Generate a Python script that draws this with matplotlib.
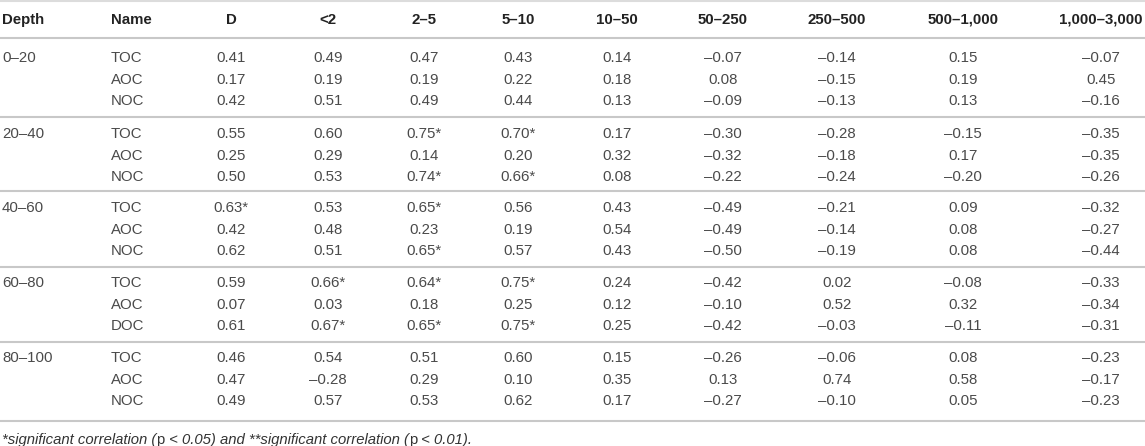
import matplotlib
matplotlib.use("Agg")
import matplotlib.pyplot as plt

plt.rcParams['font.family'] = ['Liberation Sans', 'DejaVu Sans']

# table contents
header = ['Depth', 'Name', 'D', '<2', '2–5', '5–10', '10–50', '50–250',
          '250–500', '500–1,000', '1,000–3,000']
depths = ['0–20', '20–40', '40–60', '60–80', '80–100']
names = [['TOC', 'AOC', 'NOC'],
         ['TOC', 'AOC', 'NOC'],
         ['TOC', 'AOC', 'NOC'],
         ['TOC', 'AOC', 'DOC'],
         ['TOC', 'AOC', 'NOC']]

values = [
    [0.41, 0.49, 0.47, 0.43, 0.14, -0.07, -0.14, 0.15, -0.07],
    [0.17, 0.19, 0.19, 0.22, 0.18, 0.08, -0.15, 0.19, 0.45],
    [0.42, 0.51, 0.49, 0.44, 0.13, -0.09, -0.13, 0.13, -0.16],
    [0.55, 0.60, 0.75, 0.70, 0.17, -0.30, -0.28, -0.15, -0.35],
    [0.25, 0.29, 0.14, 0.20, 0.32, -0.32, -0.18, 0.17, -0.35],
    [0.50, 0.53, 0.74, 0.66, 0.08, -0.22, -0.24, -0.20, -0.26],
    [0.63, 0.53, 0.65, 0.56, 0.43, -0.49, -0.21, 0.09, -0.32],
    [0.42, 0.48, 0.23, 0.19, 0.54, -0.49, -0.14, 0.08, -0.27],
    [0.62, 0.51, 0.65, 0.57, 0.43, -0.50, -0.19, 0.08, -0.44],
    [0.59, 0.66, 0.64, 0.75, 0.24, -0.42, 0.02, -0.08, -0.33],
    [0.07, 0.03, 0.18, 0.25, 0.12, -0.10, 0.52, 0.32, -0.34],
    [0.61, 0.67, 0.65, 0.75, 0.25, -0.42, -0.03, -0.11, -0.31],
    [0.46, 0.54, 0.51, 0.60, 0.15, -0.26, -0.06, 0.08, -0.23],
    [0.47, -0.28, 0.29, 0.10, 0.35, 0.13, 0.74, 0.58, -0.17],
    [0.49, 0.57, 0.53, 0.62, 0.17, -0.27, -0.10, 0.05, -0.23],
]

# (row, column) cells with p < 0.05
starred = [(3, 2), (3, 3), (5, 2), (5, 3), (6, 0), (6, 2), (8, 2),
           (9, 1), (9, 2), (9, 3), (11, 1), (11, 2), (11, 3)]

footnote = [('*significant correlation (', 'italic'), ('p', 'normal'),
            (' < 0.05) and **significant correlation (', 'italic'),
            ('p', 'normal'), (' < 0.01).', 'italic')]


W, H = 1145, 446
fig = plt.figure(figsize=(W / 100, H / 100), dpi=100)
ax = fig.add_axes([0, 0, 1, 1])
ax.set_xlim(0, W)
ax.set_ylim(H, 0)
ax.axis('off')

col_x = [2, 111, 231, 328, 424, 518, 617, 723, 837, 963, 1101]
fs = 10.8
body = '#4a4a4a'
line_c = '#c8c8c8'

# header
for i, h in enumerate(header):
    ax.text(col_x[i], 20, h, ha='left' if i < 2 else 'center', va='center',
            fontsize=fs, fontweight='bold', color='#222222')

ax.axhline(1, color='#dcdcdc', lw=1.5)
ax.axhline(38, color=line_c, lw=1.5)

group_y = [58, 134, 208, 283, 358]
sep_y = [117, 191, 267, 342, 421]
step = 21.7

r = 0
for g, d in enumerate(depths):
    y0 = group_y[g]
    ax.text(col_x[0], y0, d, ha='left', va='center', fontsize=fs, color=body)
    for k, nm in enumerate(names[g]):
        y = y0 + k * step
        ax.text(col_x[1], y, nm, ha='left', va='center', fontsize=fs, color=body)
        for c, v in enumerate(values[r]):
            s = f'{abs(v):.2f}'
            if v < 0:
                s = '–' + s
            if (r, c) in starred:
                s += '*'
            ax.text(col_x[c + 2], y, s, ha='center', va='center',
                    fontsize=fs, color=body)
        r += 1
    ax.axhline(sep_y[g], color=line_c, lw=1.5)

# footnote, italic with upright p
fig.canvas.draw()
renderer = fig.canvas.get_renderer()
x = 2
for txt, style in footnote:
    t = ax.text(x, 440, txt, ha='left', va='center', fontsize=10.7,
                style=style, color='#333333')
    bb = t.get_window_extent(renderer)
    x += bb.width

fig.savefig('out.png', dpi=100)
